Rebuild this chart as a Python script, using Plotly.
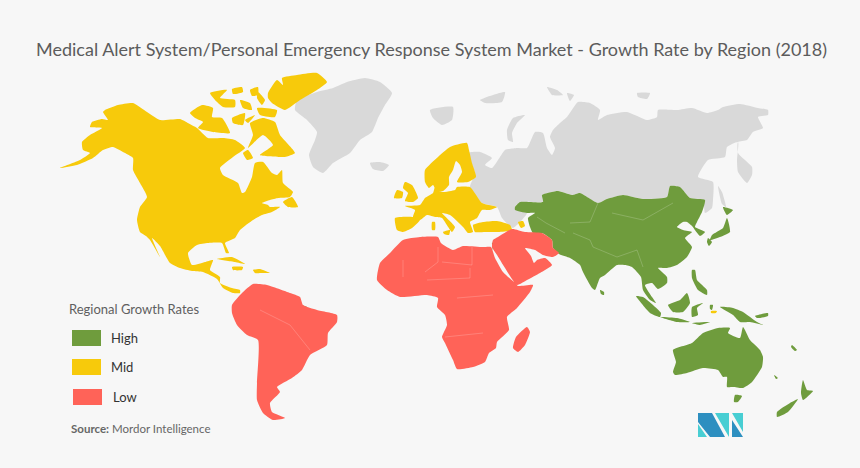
import plotly.graph_objects as go

TITLE = "Medical Alert System/Personal Emergency Response System Market - Growth Rate by Region (2018)"
LEGEND_TITLE = "Regional Growth Rates"
CATEGORIES = ["High", "Mid", "Low"]
SOURCE_NAME = "Mordor Intelligence"

# outlines, in map units (0-860 across, 0-468 down)
HIGH = [
    # china, central + south asia
    [(515,207),(520,202),(543,202),(542,195),(558,191),(572,195),(580,193),(598,203),(607,199),(623,195),(643,199),(667,197),(670,186),(680,187),(690,198),(705,200),(702,212),(697,222),(695,227),(705,232),(700,236),(692,226),(687,222),(683,222),(677,227),(683,230),(692,232),(685,238),(692,247),(687,257),(677,265),(667,268),(658,268),(667,277),(667,283),(658,289),(652,283),(645,285),(652,297),(656,303),(650,300),(643,290),(641,277),(632,267),(625,265),(617,265),(605,275),(600,278),(595,290),(592,288),(583,272),(580,265),(570,258),(559,254),(553,248),(552,240),(542,233),(533,233),(530,227),(528,218),(535,213),(527,213),(515,210)],
    [(600,290),(604,292),(604,295),(601,294)],
    # indonesia, philippines, png
    [(636,296),(643,297),(653,305),(661,313),(660,317),(650,313),(642,304)],
    [(660,317),(677,318),(690,322),(677,322)],
    [(692,323),(710,322),(700,325)],
    [(668,305),(680,300),(687,293),(690,303),(683,312),(673,312)],
    [(692,307),(703,303),(697,308),(698,315),(692,317)],
    [(692,270),(695,270),(697,280),(707,290),(707,295),(698,290),(692,278)],
    [(710,305),(713,305),(712,310),(710,309)],
    [(720,307),(733,308),(743,312),(757,322),(763,325),(750,322),(740,322),(733,315)],
    [(755,316),(768,313),(768,316),(757,318)],
    # australia, new zealand
    [(673,350),(692,343),(703,333),(718,328),(730,328),(728,333),(740,338),(743,327),(750,340),(760,350),(763,357),(762,367),(752,382),(743,388),(733,387),(727,387),(727,377),(723,377),(718,370),(703,368),(687,373),(675,375),(673,372),(676,362)],
    [(735,395),(742,396),(738,402),(734,402)],
    [(803,380),(807,390),(813,391),(803,400),(801,393)],
    [(798,399),(788,412),(777,417),(777,412),(790,403)],
    [(792,345),(797,350),(795,351),(791,347)],
    [(774,375),(778,378),(776,379)],
    # japan
    [(723,207),(733,210),(727,215)],
    [(727,218),(730,232),(720,237),(710,240),(712,235),(723,228)],
    [(708,238),(712,242),(709,246),(707,242)],
    # israel, french guiana
    [(492,243),(494,243),(493,250)],
    [(300,305),(307,307),(303,310)],
]
MID = [
    # north america
    [(105,110),(118,105),(133,103),(147,112),(160,120),(180,119),(188,123),(197,128),(208,138),(223,138),(235,140),(245,148),(233,157),(220,168),(223,175),(238,183),(242,193),(245,192),(252,177),(255,163),(263,162),(272,173),(277,175),(282,170),(283,183),(293,192),(290,197),(278,198),(270,200),(262,203),(268,205),(270,207),(280,207),(272,212),(262,215),(253,220),(240,230),(235,238),(225,243),(229,253),(226,253),(222,243),(208,243),(197,245),(188,253),(192,265),(205,262),(213,260),(210,270),(220,277),(220,283),(232,288),(240,290),(240,293),(233,293),(223,288),(217,279),(203,272),(192,271),(180,268),(170,263),(160,246),(152,238),(160,257),(150,240),(146,236),(140,232),(137,220),(140,207),(147,197),(140,183),(133,170),(133,158),(123,152),(113,147),(103,150),(93,158),(77,165),(60,168),(80,160),(90,153),(83,150),(82,142),(90,135),(102,128),(90,127),(92,122),(102,119),(108,120),(103,112)],
    # canadian arctic
    [(268,93),(277,80),(283,85),(282,78),(297,75),(317,73),(327,82),(317,90),(300,100),(285,110),(272,103),(268,98)],
    [(257,108),(277,110),(275,117),(260,115)],
    [(250,90),(258,87),(258,95),(252,96)],
    [(258,92),(265,100),(262,105),(257,98)],
    [(210,93),(227,90),(220,98),(235,100),(235,107),(223,107),(215,100)],
    [(232,89),(242,87),(243,92),(233,94)],
    [(240,100),(250,103),(252,110),(243,108)],
    [(190,113),(202,105),(213,108),(212,117),(222,118),(230,133),(213,132),(198,128),(203,122),(195,118)],
    [(232,118),(245,113),(243,125),(233,123)],
    [(245,120),(255,115),(248,123)],
    [(250,123),(263,118),(275,122),(280,135),(295,153),(285,157),(280,157),(260,155),(273,145),(263,135),(248,148),(253,135)],
    [(243,153),(248,150),(253,158),(247,160)],
    [(283,202),(292,197),(298,207),(288,207)],
    # caribbean
    [(217,259),(232,257),(245,264),(235,262)],
    [(232,267),(243,267),(242,270),(233,270)],
    [(253,270),(260,269),(270,273),(262,273),(255,273)],
    # europe
    [(405,182),(412,185),(418,198),(413,202),(405,201),(408,193),(403,188)],
    [(397,190),(403,192),(402,198),(394,198)],
    [(425,170),(438,157),(450,147),(467,143),(469,150),(472,163),(476,177),(468,182),(457,182),(462,172),(460,165),(456,161),(453,170),(449,177),(449,185),(443,191),(437,192),(433,185),(429,188),(425,182)],
    [(395,218),(413,217),(420,220),(412,228),(403,232),(397,230)],
    [(405,206),(420,205),(425,198),(433,193),(435,187),(440,192),(455,190),(457,187),(470,187),(482,203),(497,207),(490,210),(482,210),(477,218),(470,222),(473,232),(468,233),(463,227),(450,215),(442,213),(455,227),(452,232),(442,218),(435,217),(427,215),(420,220),(413,217),(415,210)],
    [(432,222),(435,222),(435,230),(432,230)],
    [(443,232),(450,230),(449,235),(444,234)],
    [(473,225),(483,222),(497,221),(510,225),(512,230),(497,232),(485,232),(475,232)],
    [(518,222),(523,221),(525,226),(521,228)],
    [(711,311),(717,311),(716,313),(711,313)],
]
LOW = [
    # south america
    [(232,313),(232,305),(242,293),(253,284),(267,285),(290,293),(300,297),(303,305),(317,310),(337,315),(337,322),(328,333),(327,345),(310,355),(302,370),(292,378),(277,387),(280,392),(270,403),(272,412),(285,418),(273,420),(263,413),(257,400),(257,383),(258,340),(247,335),(237,325)],
    # africa
    [(377,280),(380,263),(390,253),(403,240),(420,237),(438,237),(441,243),(453,250),(463,246),(483,247),(491,247),(495,258),(503,272),(515,283),(518,286),(533,285),(530,292),(517,308),(507,317),(509,330),(497,342),(496,348),(489,353),(485,362),(473,367),(457,369),(453,360),(445,343),(442,337),(447,325),(445,315),(437,307),(438,298),(427,295),(400,297),(387,290)],
    [(527,327),(530,332),(525,345),(518,352),(513,348),(516,337)],
    # middle east
    [(492,247),(493,240),(498,237),(512,229),(525,232),(542,233),(552,240),(553,248),(559,253),(553,257),(543,255),(535,250),(525,248),(531,256),(534,263),(537,260),(545,258),(552,265),(540,273),(527,280),(517,285),(505,268),(497,255)],
]
NO_DATA = [
    # greenland
    [(297,100),(317,92),(333,88),(347,82),(365,78),(380,82),(392,93),(385,105),(378,118),(372,132),(360,140),(350,153),(333,163),(323,173),(313,167),(309,155),(315,140),(317,132),(307,120),(295,110)],
    [(370,163),(380,162),(389,165),(383,171),(373,169)],
    # russia
    [(468,153),(480,152),(492,158),(485,165),(492,168),(500,157),(505,150),(517,148),(527,148),(535,132),(543,133),(547,148),(552,155),(555,148),(550,137),(553,130),(560,123),(567,117),(578,102),(590,103),(600,110),(598,120),(607,115),(627,112),(647,120),(657,117),(658,110),(677,110),(692,108),(707,113),(718,110),(723,107),(740,104),(758,108),(768,110),(768,115),(758,117),(763,128),(753,132),(747,140),(738,142),(738,153),(752,167),(752,175),(747,183),(738,172),(737,160),(738,142),(727,147),(725,157),(708,160),(698,177),(713,182),(713,200),(712,208),(705,213),(703,200),(690,198),(680,187),(670,186),(667,197),(643,199),(623,195),(607,199),(598,203),(580,193),(572,195),(558,191),(542,195),(543,202),(520,202),(515,207),(527,213),(513,228),(502,218),(497,207),(482,203),(470,187),(475,173)],
    [(430,110),(453,107),(452,120),(442,125),(433,118)],
    [(525,115),(517,123),(512,133),(513,142),(508,140),(507,130),(513,118)],
    [(547,87),(557,90),(563,95),(552,95)],
    [(567,93),(574,95),(570,101)],
    [(480,100),(505,92),(502,102),(485,103)],
    [(637,93),(650,93),(647,99),(638,97)],
    [(718,186),(722,192),(726,207),(722,204)],
]
# faint country borders
BORDERS = [
    [(537,217),(546,223),(565,233)],
    [(570,223),(590,222),(598,203)],
    [(612,213),(643,220),(673,203)],
    [(573,233),(590,240),(593,247),(617,257),(637,250),(643,267)],
    [(403,260),(403,277)],
    [(438,247),(438,262),(425,272)],
    [(472,247),(472,265),(442,262)],
    [(470,268),(470,278),(427,280)],
    [(457,298),(493,295)],
    [(445,337),(483,333)],
    [(260,310),(290,325),(310,350)],
]
LOGO_DARK = [
    [(698,413),(712,413),(725,437),(710,437),(698,422)],
    [(732,420),(743,437),(732,437)],
]
LOGO_LIGHT = [
    [(698,424),(707,437),(698,437)],
    [(715,413),(729,413),(729,437)],
    [(732,413),(743,413),(743,432)],
]

COLORS = {"High": "#6f9c3d", "Mid": "#f7ca0b", "Low": "#ff6358"}
GREY = "#d9d9d9"
BG = "#f7f7f7"


def outline_xy(polygons):
    xs, ys = [], []
    for poly in polygons:
        xs += [p[0] for p in poly] + [poly[0][0], None]
        ys += [p[1] for p in poly] + [poly[0][1], None]
    return xs, ys


def add_region(fig, polygons, color, shape="spline"):
    xs, ys = outline_xy(polygons)
    fig.add_trace(go.Scatter(x=xs, y=ys, mode="lines", fill="toself", fillcolor=color,
                             line=dict(width=0, color=color, shape=shape, smoothing=0.5),
                             hoverinfo="skip"))


fig = go.Figure()
add_region(fig, NO_DATA, GREY)
add_region(fig, HIGH, COLORS["High"])
add_region(fig, MID, COLORS["Mid"])
add_region(fig, LOW, COLORS["Low"])
add_region(fig, LOGO_DARK, "#2d8fc0", shape="linear")
add_region(fig, LOGO_LIGHT, "#48ced3", shape="linear")

border_x, border_y = [], []
for line in BORDERS:
    border_x += [p[0] for p in line] + [None]
    border_y += [p[1] for p in line] + [None]
fig.add_trace(go.Scatter(x=border_x, y=border_y, mode="lines", hoverinfo="skip",
                         line=dict(width=0.7, color="rgba(255,255,255,0.28)")))

# legend is drawn by hand so the swatches can sit where the original has them
swatch_y = [338, 367, 397]
label_x = [109, 109, 111]
swatch_x = [72, 72, 73]
shapes = []
annotations = [
    dict(x=431.5, y=49, text=TITLE, showarrow=False, xanchor="center", yanchor="middle",
         font=dict(family="Lato", size=18, color="#5c5c5c")),
    dict(x=67, y=309, text=LEGEND_TITLE, showarrow=False, xanchor="left", yanchor="middle",
         font=dict(family="Lato", size=13, color="#5f5f5f")),
    dict(x=69, y=428, text="<b>Source:</b> " + SOURCE_NAME, showarrow=False, xanchor="left",
         yanchor="middle", font=dict(family="Lato", size=11.5, color="#666666")),
]
for name, sy, lx, sx in zip(CATEGORIES, swatch_y, label_x, swatch_x):
    shapes.append(dict(type="rect", x0=sx, x1=sx + 29, y0=sy - 8, y1=sy + 8,
                       fillcolor=COLORS[name], line=dict(width=0)))
    annotations.append(dict(x=lx, y=sy, text=name, showarrow=False, xanchor="left", yanchor="middle",
                            font=dict(family="Lato", size=13, color="#333333")))

fig.update_layout(
    width=860, height=468, showlegend=False,
    margin=dict(l=0, r=0, t=0, b=0),
    paper_bgcolor=BG, plot_bgcolor=BG,
    xaxis=dict(range=[0, 860], visible=False, fixedrange=True),
    yaxis=dict(range=[468, 0], visible=False, fixedrange=True),
    shapes=shapes, annotations=annotations,
)
# page margin would otherwise push the figure 8px in
fig.write_html("out.html", config={"displayModeBar": False},
               post_script="document.body.style.margin='0';document.body.style.overflow='hidden';")
